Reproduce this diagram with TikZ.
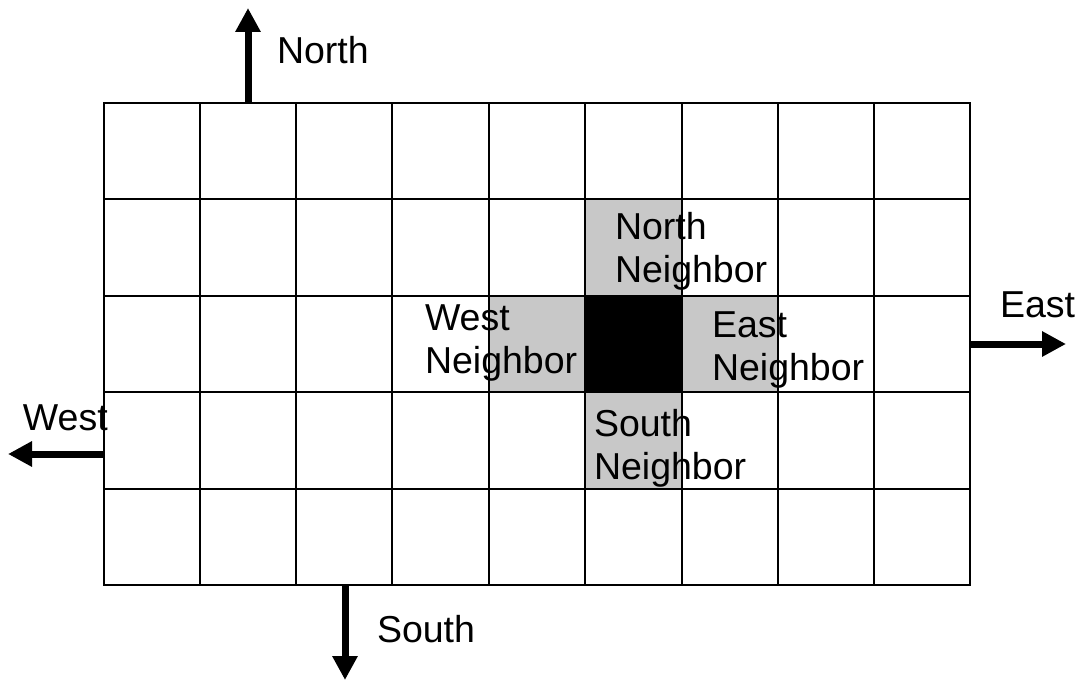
\documentclass[tikz,border=0pt]{standalone}
\usepackage{fontspec}
\setmainfont{Liberation Sans}
\usetikzlibrary{arrows.meta}
\definecolor{neighborgray}{RGB}{200,200,200}
\tikzset{
  gridline/.style={line width=2.8pt, line cap=rect},
  dirarrow/.style={line width=7pt, -{Triangle[width=24pt,length=24pt]}},
  lbl/.style={anchor=base west, inner sep=0pt, outer sep=0pt, align=left,
    font=\fontsize{37.5}{43}\selectfont},
}
\begin{document}
\begin{tikzpicture}[x=1pt,y=-1pt]
\useasboundingbox (0,0) rectangle (1081,682);
% shaded cells
\fill[neighborgray] (585,199) rectangle (682,296);
\fill[neighborgray] (489,296) rectangle (585,392);
\fill[neighborgray] (682,296) rectangle (778,392);
\fill[neighborgray] (585,392) rectangle (682,489);
\fill[black] (585,296) rectangle (682,392);
% labels inside grid (base anchor = baseline of last line)
\node[lbl] (nn) at (615,282) {North\\Neighbor};
\node[lbl] (wn) at (425,373) {West\\Neighbor};
\node[lbl] (en) at (712,380) {East\\Neighbor};
\node[lbl] (sn) at (594,479) {South\\Neighbor};
\node[lbl] (wl) at (23,430) {West};
% grid
\foreach \x in {104,200,296,392,489,585,682,778,874,970}
  \draw[gridline] (\x,103) -- (\x,585);
\foreach \y in {103,199,296,392,489,585}
  \draw[gridline] (104,\y) -- (970,\y);
% direction arrows
\coordinate (nS) at (248,104);
\coordinate (nE) at (248,8);
\coordinate (sS) at (345,584);
\coordinate (sE) at (345,680);
\coordinate (eS) at (971,344);
\coordinate (eE) at (1066,344);
\coordinate (wS) at (103,454);
\coordinate (wE) at (8,454);
\draw[dirarrow] (nS) -- (nE);
\draw[dirarrow] (sS) -- (sE);
\draw[dirarrow] (eS) -- (eE);
\draw[dirarrow] (wS) -- (wE);
\node[lbl] (nl) at (277,64) {North};
\node[lbl] (sl) at (377,642) {South};
\node[lbl] (el) at (1000,317) {East};
\end{tikzpicture}
\end{document}
